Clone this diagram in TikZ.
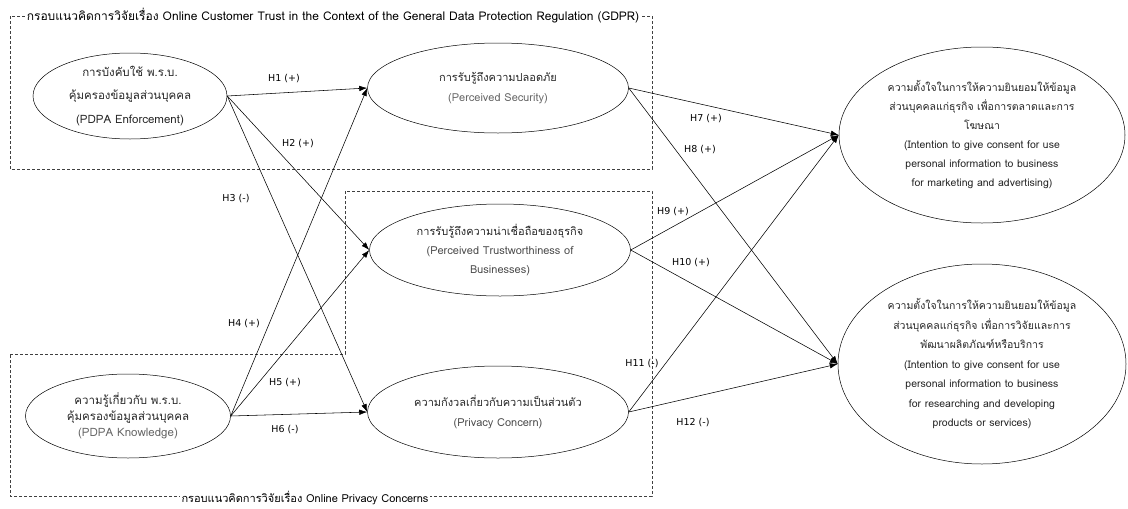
\documentclass[tikz,border=0pt]{standalone}
\usepackage{fontspec}
\setmainfont[Script=Thai]{Loma}
\newfontfamily\hfont{DejaVu Sans}
\usepackage{xcolor}
\usetikzlibrary{arrows.meta,positioning,shapes.geometric}
\tikzset{%
	construct/.style  = {draw, ellipse, inner sep=0pt, align=center, text=black!85, line width=0.5pt},
	hyp/.style        = {line width=0.55pt, -{Latex[length=8pt,width=5.5pt]}},
	hlabel/.style     = {inner sep=1pt, font=\hfont\fontsize{9.5}{11}\selectfont},
	frame/.style      = {draw=black!75, line width=0.5pt, dash pattern=on 3pt off 2pt},
	frametitle/.style = {fill=white, inner sep=2pt, font=\fontsize{12}{14}\selectfont},
}

\begin{document}
\begin{tikzpicture}[x=1pt,y=-1pt]
	\useasboundingbox (0,0) rectangle (1128,509);
	
	% frames
	\draw[frame] (10,16) -- (10,169) -- (652,169) -- (652,16) -- cycle;
	\draw[frame] (10,354) -- (345,354) -- (345,191) -- (652,191) -- (652,496) -- (10,496) -- cycle;
	\node[frametitle] (gdpr) at (333,16) {กรอบแนวคิดการวิจัยเรื่อง Online Customer Trust in the Context of the General Data Protection Regulation (GDPR)};
	\node[frametitle, font=\fontsize{11}{13}\selectfont] (opc) at (305,498) {กรอบแนวคิดการวิจัยเรื่อง Online Privacy Concerns};
	
	% constructs
	\node[construct, minimum width=194pt, minimum height=86pt, font=\fontsize{11.5}{23.5}\selectfont] (enf) at (130,96)
		{การบังคับใช้ พ.ร.บ.\\คุ้มครองข้อมูลส่วนบุคคล\\(PDPA Enforcement)};
	\node[construct, minimum width=205pt, minimum height=84pt, font=\fontsize{11.5}{16}\selectfont] (know) at (128,416)
		{ความรู้เกี่ยวกับ พ.ร.บ.\\คุ้มครองข้อมูลส่วนบุคคล\\\textcolor{black!60}{(PDPA Knowledge)}};
	\node[construct, minimum width=261pt, minimum height=90pt, font=\fontsize{11}{20}\selectfont] (sec) at (498,88)
		{การรับรู้ถึงความปลอดภัย\\\textcolor{black!60}{(Perceived Security)}};
	\node[construct, minimum width=261pt, minimum height=92pt, font=\fontsize{11}{19}\selectfont] (trust) at (500,250)
		{การรับรู้ถึงความน่าเชื่อถือของธุรกิจ\\\textcolor{black!70}{(Perceived Trustworthiness of}\\\textcolor{black!70}{Businesses)}};
	\node[construct, minimum width=261pt, minimum height=92pt, font=\fontsize{11}{20}\selectfont] (priv) at (498,412)
		{ความกังวลเกี่ยวกับความเป็นส่วนตัว\\\textcolor{black!70}{(Privacy Concern)}};
	\node[construct, minimum width=286pt, minimum height=176pt, font=\fontsize{10.5}{19}\selectfont] (mkt) at (982,135)
		{ความตั้งใจในการให้ความยินยอมให้ข้อมูล\\ส่วนบุคคลแก่ธุรกิจ เพื่อการตลาดและการ\\โฆษณา\\(Intention to give consent for use\\personal information to business\\for marketing and advertising)};
	\node[construct, minimum width=288pt, minimum height=200pt, font=\fontsize{10.5}{19.5}\selectfont] (rnd) at (982,364)
		{ความตั้งใจในการให้ความยินยอมให้ข้อมูล\\ส่วนบุคคลแก่ธุรกิจ เพื่อการวิจัยและการ\\พัฒนาผลิตภัณฑ์หรือบริการ\\(Intention to give consent for use\\personal information to business\\for researching and developing\\products or services)};
	
	% hypotheses
	\draw[hyp] (enf.east) -- (sec.west);
	\draw[hyp] (enf.east) -- (trust.west);
	\draw[hyp] (enf.east) -- (priv.west);
	\draw[hyp] (know.east) -- (sec.west);
	\draw[hyp] (know.east) -- (trust.west);
	\draw[hyp] (know.east) -- (priv.west);
	\draw[hyp] (sec.east) -- (mkt.west);
	\draw[hyp] (sec.east) -- (rnd.west);
	\draw[hyp] (trust.east) -- (mkt.west);
	\draw[hyp] (trust.east) -- (rnd.west);
	\draw[hyp] (priv.east) -- (mkt.west);
	\draw[hyp] (priv.east) -- (rnd.west);
	
	\node[hlabel] (h1) at (284,79) {H1 (+)};
	\node[hlabel] (h2) at (298,144) {H2 (+)};
	\node[hlabel] (h3) at (236,199) {H3 (-)};
	\node[hlabel] (h4) at (244,324) {H4 (+)};
	\node[hlabel] (h5) at (285,383) {H5 (+)};
	\node[hlabel] (h6) at (285,430) {H6 (-)};
	\node[hlabel] (h7) at (706,119) {H7 (+)};
	\node[hlabel] (h8) at (700,150) {H8 (+)};
	\node[hlabel] (h9) at (673,212) {H9 (+)};
	\node[hlabel] (h10) at (691,263) {H10 (+)};
	\node[hlabel] (h11) at (642,364) {H11 (-)};
	\node[hlabel] (h12) at (693,423) {H12 (-)};
\end{tikzpicture}
\end{document}
